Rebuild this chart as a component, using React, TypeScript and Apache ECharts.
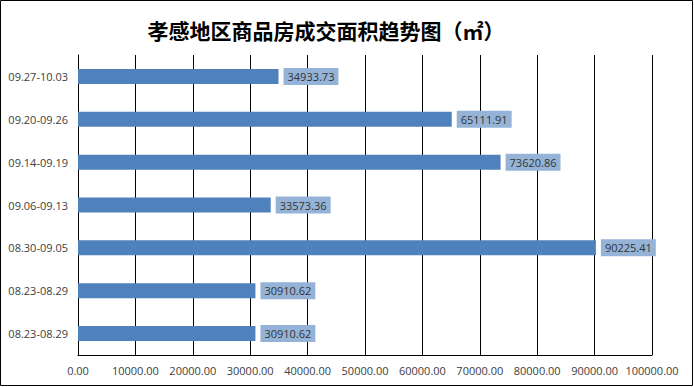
import React, { useEffect, useRef } from "react";
import * as echarts from "echarts";

const title = "孝感地区商品房成交面积趋势图（㎡）";
const categories = [
  "09.27-10.03",
  "09.20-09.26",
  "09.14-09.19",
  "09.06-09.13",
  "08.30-09.05",
  "08.23-08.29",
  "08.23-08.29",
];
const values = [34933.73, 65111.91, 73620.86, 33573.36, 90225.41, 30910.62, 30910.62];
const xMin = 0;
const xMax = 100000;
const xStep = 10000;

export default function App() {
  const ref = useRef<HTMLDivElement>(null);
  useEffect(() => {
    document.body.style.margin = "0";
    const chart = echarts.init(ref.current!, undefined, { renderer: "svg" });
    chart.setOption({
      animation: false,
      backgroundColor: "#ffffff",
      title: {
        text: title,
        left: 321,
        textAlign: "center",
        top: 14,
        textStyle: {
          fontFamily: "Noto Sans CJK SC",
          fontWeight: "bold",
          fontSize: 21,
          color: "#000000",
        },
      },
      graphic: [
        {
          type: "rect",
          shape: { x: 0.5, y: 0.5, width: 692, height: 385 },
          style: { fill: "none", stroke: "#000000", lineWidth: 1 },
          silent: true,
        },
      ],
      grid: { left: 78, right: 42, top: 55, bottom: 32, containLabel: false },
      xAxis: {
        type: "value",
        min: xMin,
        max: xMax,
        interval: xStep,
        axisLine: { show: true, lineStyle: { color: "#000000", width: 1 } },
        axisTick: { show: false },
        splitLine: { show: true, lineStyle: { color: "#000000", width: 1 } },
        axisLabel: {
          formatter: (v: number) => v.toFixed(2),
          color: "#404040",
          fontSize: 11,
          fontFamily: "Open Sans",
          margin: 10,
        },
      },
      yAxis: {
        type: "category",
        inverse: true,
        data: categories,
        axisLine: { show: true, lineStyle: { color: "#000000", width: 1 } },
        axisTick: { show: false },
        splitLine: { show: false },
        axisLabel: {
          color: "#404040",
          fontSize: 11,
          fontFamily: "Open Sans",
          margin: 10,
        },
      },
      series: [
        {
          type: "bar",
          data: values,
          barWidth: 15,
          itemStyle: { color: "#4F81BD" },
          label: {
            show: true,
            position: "right",
            distance: 5,
            formatter: (p: any) => (p.value as number).toFixed(2),
            backgroundColor: "#95B3D7",
            padding: [3, 4, 3, 4],
            color: "#333333",
            fontSize: 11,
            fontFamily: "Open Sans",
          },
        },
      ],
    });
    return () => chart.dispose();
  }, []);
  return (
    <div
      ref={ref}
      style={{ position: "absolute", left: 0, top: 0, width: 694, height: 387 }}
    />
  );
}
